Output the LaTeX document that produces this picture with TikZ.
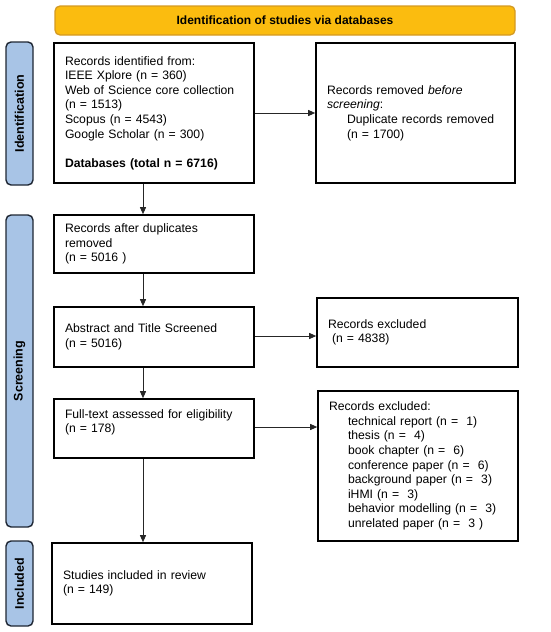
\documentclass[tikz,border=0pt]{standalone}
\usepackage{fontspec}
\setmainfont{Liberation Sans}
\usetikzlibrary{arrows.meta}
\definecolor{bannerfill}{HTML}{FBBC0F}
\definecolor{bannerdraw}{HTML}{D49A22}
\definecolor{tabfill}{HTML}{A8C4E6}
\definecolor{tabdraw}{HTML}{1E2633}
\tikzset{
  box/.style={draw=black, line width=1.6pt, inner xsep=11pt, inner ysep=0pt, align=left,
    font=\fontsize{12.2}{14.6}\selectfont},
  tab/.style={draw=tabdraw, fill=tabfill, line width=1.4pt, rounded corners=5pt, rotate=90,
    minimum height=27pt, inner sep=0pt, font=\bfseries\fontsize{12.5}{14}\selectfont},
  arr/.style={draw=black!85, line width=0.9pt, -{Triangle[length=7pt,width=6pt]}}
}
\begin{document}
\begin{tikzpicture}[x=1pt,y=-1pt]
\useasboundingbox (0,0) rectangle (550,632);
% banner
\node[draw=bannerdraw, fill=bannerfill, line width=1.3pt, rounded corners=5pt,
  minimum width=460pt, minimum height=29pt, inner sep=0pt,
  font=\bfseries\fontsize{12}{14}\selectfont] (ban) at (285,20.5) {Identification of studies via databases};
% side tabs
\node[tab, minimum width=143pt] (t1) at (19.5,113.5) {Identification};
\node[tab, minimum width=312pt] (t2) at (19.5,371) {Screening};
\node[tab, minimum width=85pt] (t3) at (19.5,583.5) {Included};
% boxes
\node[box, text width=178pt, minimum height=140pt] (b1) at (154,113) {Records identified from:\\
IEEE Xplore (n = 360)\\
Web of Science core collection\\
(n = 1513)\\
Scopus (n = 4543)\\
Google Scholar (n = 300)\\[14.6pt]
\textbf{Databases (total n = 6716)}};
\node[box, text width=177pt, minimum height=140pt] (b2) at (415.5,113) {Records removed \emph{before}\\
\emph{screening}:\\
\hspace*{20pt}Duplicate records removed\\
\hspace*{20pt}(n = 1700)};
\node[box, text width=178pt, minimum height=58pt] (b3) at (154,244) {Records after duplicates\\
removed\\
(n = 5016 )};
\node[box, text width=178pt, minimum height=60pt] (b4) at (154,337) {Abstract and Title Screened\\
(n = 5016)};
\node[box, text width=179pt, minimum height=69pt] (b5) at (417.5,332.5) {Records excluded\\
\ (n = 4838)};
\node[box, text width=178pt, minimum height=59pt] (b6) at (154,428.5) {Full-text assessed for eligibility\\
(n = 178)\\
\mbox{}};
\node[box, text width=178pt, minimum height=150pt] (b7) at (418,466) {Records excluded:\\
\hspace*{19pt}technical report (n = \ 1)\\
\hspace*{19pt}thesis (n = \ 4)\\
\hspace*{19pt}book chapter (n = \ 6)\\
\hspace*{19pt}conference paper (n = \ 6)\\
\hspace*{19pt}background paper (n = \ 3)\\
\hspace*{19pt}iHMI (n = \ 3)\\
\hspace*{19pt}behavior modelling (n = \ 3)\\
\hspace*{19pt}unrelated paper (n = \ 3 )};
\node[box, text width=178pt, minimum height=81pt] (b8) at (152,583.5) {Studies included in review\\
(n = 149)};
% connectors
\draw[arr] (b1) -- (b2);
\draw[arr] ([xshift=-11pt]b1.south) -- ([xshift=-11pt]b3.north);
\draw[arr] ([xshift=-11pt]b3.south) -- ([xshift=-11pt]b4.north);
\draw[arr] ([xshift=-11pt]b4.south) -- ([xshift=-11pt]b6.north);
\draw[arr] ([yshift=1pt]b4.east) -- ([yshift=1pt]b4.east -| b5.west);
\draw[arr] ([yshift=1.5pt]b6.east) -- ([yshift=1.5pt]b6.east -| b7.west);
\draw[arr] ([xshift=-11pt]b6.south) -- ([xshift=-9pt]b8.north);
\end{tikzpicture}
\end{document}
